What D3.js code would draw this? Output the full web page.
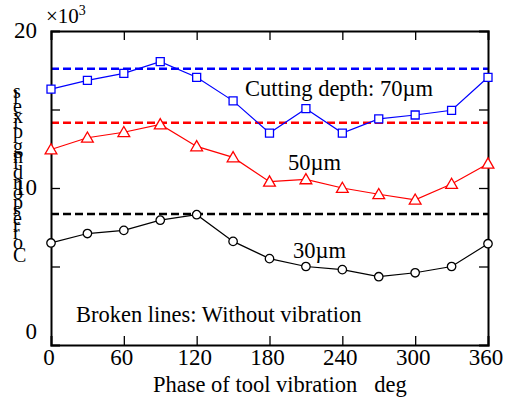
<!DOCTYPE html>
<html><head><meta charset="utf-8">
<script src="https://cdn.jsdelivr.net/npm/d3@7/dist/d3.min.js"></script>
<style>
body{margin:0;background:#fff;}
text{font-family:"Liberation Serif","Times New Roman",serif;fill:#000;}
</style></head>
<body><svg id="c" width="509" height="399"></svg>
<script>
const phase = [0,30,60,90,120,150,180,210,240,270,300,330,360];
const depth70 = [16.3,16.85,17.3,18.05,17.05,15.55,13.5,15.05,13.5,14.4,14.65,14.95,17.05];
const depth50 = [12.45,13.2,13.55,14.05,12.65,11.95,10.4,10.55,10.0,9.6,9.25,10.25,11.55];
const depth30 = [6.5,7.1,7.3,7.95,8.3,6.6,5.5,5.0,4.8,4.35,4.6,5.0,6.45];
const withoutVibration = [17.6, 14.15, 8.35]; // 70, 50, 30 µm
const xTicks = [0,60,120,180,240,300,360];
const yTickLabels = [0,10,20];
const yTicksMinor = [5,10,15];

const svg = d3.select("#c");
const x = d3.scaleLinear().domain([0,360]).range([51,488]);
const y = d3.scaleLinear().domain([0,20]).range([345,31]);

// dashed lines (without vibration)
const dashColors = ["#0000ff","#ff0000","#000000"];
withoutVibration.forEach((v,i)=>{
  svg.append("line").attr("x1",x(0)).attr("x2",x(360)).attr("y1",y(v)).attr("y2",y(v))
    .attr("stroke",dashColors[i]).attr("stroke-width",2.5).attr("stroke-dasharray","8,4");
});

// axes frame with inward ticks
const g = svg.append("g");
const axB = d3.axisBottom(x).tickValues(xTicks.slice(1,-1)).tickSize(-9).tickFormat("");
const axT = d3.axisTop(x).tickValues(xTicks.slice(1,-1)).tickSize(-9).tickFormat("");
const axL = d3.axisLeft(y).tickValues(yTicksMinor).tickSize(-9).tickFormat("");
const axR = d3.axisRight(y).tickValues(yTicksMinor).tickSize(-9).tickFormat("");
[[axB,`translate(0,${y(0)})`],[axT,`translate(0,${y(20)})`],[axL,`translate(${x(0)},0)`],[axR,`translate(${x(360)},0)`]].forEach(([a,t])=>{
  const gg = g.append("g").attr("transform",t).call(a);
  gg.select(".domain").attr("stroke","#000").attr("stroke-width",2);
  gg.selectAll(".tick line").attr("stroke","#000").attr("stroke-width",1.3);
});

// tick labels
svg.selectAll(".xl").data(xTicks).enter().append("text")
  .attr("x",d=>x(d)-2).attr("y",365).attr("text-anchor","middle").attr("font-size",23).text(d=>d);
svg.selectAll(".yl").data(yTickLabels).enter().append("text")
  .attr("x",37).attr("y",d=>y(d)+ (d===0? -6 : 7)).attr("text-anchor","end").attr("font-size",23).text(d=>d);
const ex = svg.append("text").attr("x",46).attr("y",23).attr("font-size",21);
ex.append("tspan").text("×10");
ex.append("tspan").attr("dy",-8).attr("font-size",14).text("3");

// series
const series = [
  {vals:depth70, color:"#0000ff", marker:"square"},
  {vals:depth50, color:"#ff0000", marker:"triangle"},
  {vals:depth30, color:"#000000", marker:"circle"}
];
const line = d3.line().x((d,i)=>x(phase[i])).y(d=>y(d));
series.forEach(s=>{
  svg.append("path").datum(s.vals).attr("d",line).attr("fill","none").attr("stroke",s.color).attr("stroke-width",1.2);
  const sym = s.marker==="square"? d3.symbolSquare : s.marker==="triangle"? d3.symbolTriangle : d3.symbolCircle;
  const size = s.marker==="square"? 64 : s.marker==="triangle"? 60 : 56;
  svg.selectAll(null).data(s.vals).enter().append("path")
    .attr("d",d3.symbol().type(sym).size(size))
    .attr("transform",(d,i)=>`translate(${x(phase[i])},${y(d) + (s.marker==="triangle"?1:0)})`)
    .attr("fill","#fff").attr("stroke",s.color).attr("stroke-width",1.3);
});

// annotations
svg.append("text").attr("x",245).attr("y",96).attr("font-size",22.5).text("Cutting depth: 70µm");
svg.append("text").attr("x",288).attr("y",170).attr("font-size",22.5).text("50µm");
svg.append("text").attr("x",293).attr("y",258).attr("font-size",22.5).text("30µm");
svg.append("text").attr("x",76).attr("y",322).attr("font-size",22.5).text("Broken lines: Without vibration");

// axis titles
svg.append("text").attr("x",153).attr("y",392).attr("font-size",22.5).style("white-space","pre")
  .text("Phase of tool vibration   deg");
svg.append("text").attr("transform","translate(13,262) rotate(-90)").attr("rotate","90")
  .attr("font-size",20).text("Corresponding pixels");
</script></body></html>
